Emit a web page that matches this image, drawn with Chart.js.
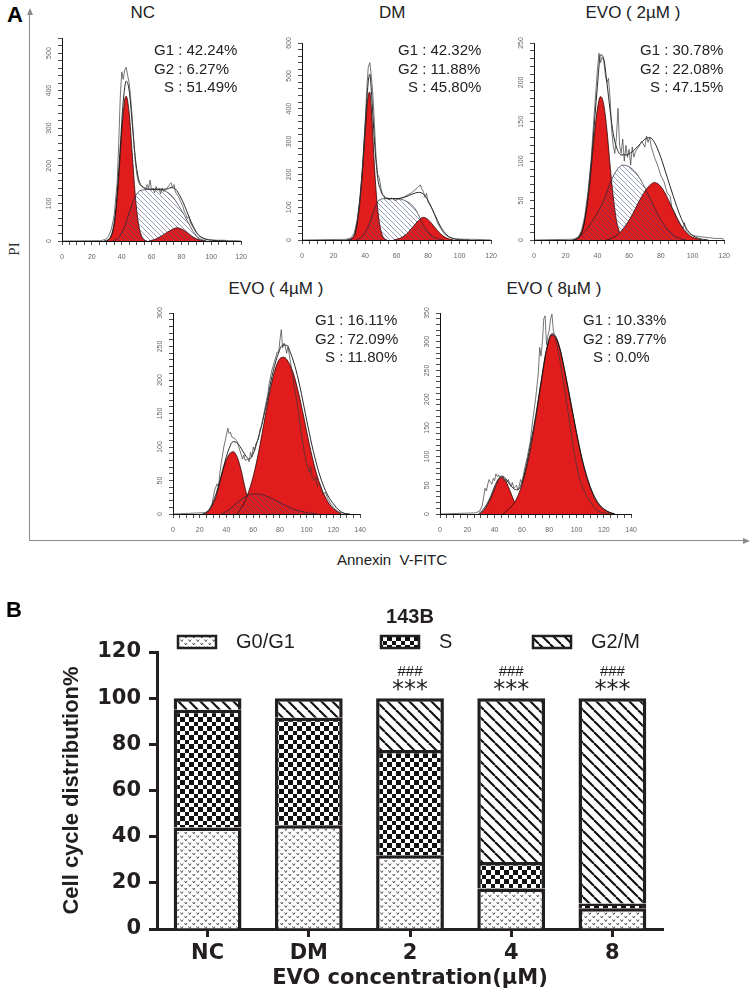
<!DOCTYPE html>
<html>
<head>
<meta charset="utf-8">
<script src="https://cdn.jsdelivr.net/npm/chart.js@4.4.1/dist/chart.umd.min.js"></script>
<style>
  html, body { margin: 0; padding: 0; background: #fff; }
  #page { position: relative; width: 750px; height: 994px; overflow: hidden;
          font-family: "Liberation Sans", Arial, sans-serif; color: #231f20; }
  .wrap { position: absolute; }
  .txt { position: absolute; white-space: nowrap; }
  .stat { position: absolute; font-size: 15px; line-height: 18.5px; white-space: nowrap; color: #222; }
  .stat span { display: inline-block; width: 20px; text-align: right; }
  .frame { position: absolute; left: 29px; top: 13px; width: 717px; height: 527px;
           border-left: 1.5px solid #8a8a8a; border-bottom: 1.5px solid #8a8a8a; }
  .arrowUp { position: absolute; left: 27px; top: 8px; width: 0; height: 0;
             border-left: 3px solid transparent; border-right: 3px solid transparent; border-bottom: 7px solid #8a8a8a; }
  .arrowRight { position: absolute; left: 743px; top: 538px; width: 0; height: 0;
                border-top: 3px solid transparent; border-bottom: 3px solid transparent; border-left: 7px solid #8a8a8a; }
</style>
</head>
<body>
<div id="page">
  <div class="frame"></div>
  <div class="arrowUp"></div>
  <div class="arrowRight"></div>

  <div class="wrap" id="w-nc"><canvas id="c-nc"></canvas></div>
  <div class="wrap" id="w-dm"><canvas id="c-dm"></canvas></div>
  <div class="wrap" id="w-e2"><canvas id="c-e2"></canvas></div>
  <div class="wrap" id="w-e4"><canvas id="c-e4"></canvas></div>
  <div class="wrap" id="w-e8"><canvas id="c-e8"></canvas></div>
  <div class="wrap" id="w-bar" style="left:0;top:600px;width:750px;height:394px"><canvas id="c-bar"></canvas></div>
</div>

<script>
// ---------- Panel A: flow histograms (DNA content vs count) ----------
// each series is a list of [channel, count]
const ncG1 = [[30,0],[32,6],[34,25],[36,75],[38,170],[40,290],[42,375],[43,385],[45,340],[47,235],[49,125],[51,52],[53,16],[55,3],[57,0]];
const ncG2 = [[58,0],[62,4],[66,12],[70,22],[74,31],[77,35],[80,32],[84,22],[88,10],[92,3],[96,0]];
const ncS = [[34,0],[38,10],[42,40],[45,75],[48,110],[51,130],[55,136],[60,137],[66,136],[70,131],[74,118],[78,95],[82,68],[86,38],[90,14],[94,3],[97,0]];
const ncFit = [[28,0],[32,8],[35,50],[37,130],[39,250],[41,370],[43,425],[45,400],[47,315],[49,225],[51,170],[53,148],[56,140],[60,138],[65,138],[70,138],[73,142],[76,138],[79,120],[82,95],[85,65],[88,38],[91,18],[94,8],[98,3],[104,1],[110,0]];
const ncRaw = [[0,0],[26,1],[29,4],[31,12],[33,30],[35,70],[37,160],[38,260],[39,380],[40,450],[41,430],[42,455],[43,462],[44,440],[45,420],[46,380],[47,330],[48,270],[49,215],[50,180],[51,160],[52,150],[54,145],[56,138],[57,150],[58,140],[59,162],[60,135],[61,140],[62,128],[63,145],[64,135],[65,140],[66,125],[67,140],[68,132],[70,138],[72,150],[73,155],[74,142],[75,150],[76,130],[78,118],[80,100],[81,92],[82,78],[83,70],[84,60],[85,65],[86,48],[88,35],[90,22],[92,14],[94,9],[96,6],[98,4],[100,3],[104,2],[108,2],[112,1],[116,1],[120,0]];

const dmG1 = [[30,0],[32,5],[34,25],[36,85],[38,185],[40,320],[42,440],[43,450],[44,400],[46,220],[48,95],[50,30],[52,6],[54,0]];
const dmG2 = [[58,0],[62,5],[66,17],[70,38],[74,60],[77,69],[80,62],[84,40],[88,18],[92,5],[96,0]];
const dmS = [[34,0],[38,10],[42,40],[46,95],[49,122],[53,126],[58,126],[63,124],[67,116],[70,105],[73,85],[76,55],[79,30],[82,14],[86,4],[90,0]];
const dmFit = [[28,0],[32,6],[34,28],[36,95],[38,200],[40,345],[42,480],[43,505],[44,455],[46,300],[48,190],[50,150],[52,132],[55,126],[60,126],[65,130],[70,140],[74,145],[77,140],[80,120],[84,80],[88,40],[92,15],[96,4],[100,1],[106,0]];
const dmRaw = [[0,0],[28,2],[31,6],[33,20],[35,60],[37,130],[39,260],[40,350],[41,450],[42,525],[43,540],[44,500],[45,440],[46,350],[47,250],[48,200],[49,190],[50,160],[51,140],[52,135],[53,125],[54,130],[55,122],[57,128],[59,120],[61,125],[63,128],[65,132],[67,138],[69,142],[71,150],[73,158],[75,168],[76,155],[77,148],[78,130],[79,142],[80,115],[82,100],[84,78],[86,52],[88,35],[90,20],[92,12],[94,7],[97,4],[100,3],[105,2],[110,2],[115,1],[120,0]];

const e2G1 = [[26,0],[29,6],[32,25],[35,68],[38,132],[40,166],[42,182],[44,172],[46,140],[48,95],[50,55],[52,25],[54,10],[56,3],[58,0]];
const e2G2 = [[46,0],[50,3],[54,9],[58,19],[62,32],[66,48],[70,62],[74,71],[76,73],[79,70],[82,62],[86,46],[90,29],[94,15],[98,6],[102,2],[106,0]];
const e2S = [[26,0],[30,6],[34,16],[38,28],[42,42],[45,55],[48,72],[52,88],[56,95],[60,93],[64,86],[68,74],[72,58],[76,41],[80,26],[84,14],[88,6],[92,2],[96,0]];
const e2Fit = [[24,0],[28,3],[31,15],[34,55],[37,120],[40,195],[42,235],[44,230],[46,200],[48,165],[50,135],[52,118],[55,108],[58,108],[62,112],[66,120],[70,128],[73,130],[76,124],[80,105],[84,80],[88,55],[92,32],[96,15],[100,6],[104,2],[110,0]];
const e2Raw = [[0,0],[25,1],[28,4],[30,12],[32,30],[34,60],[36,100],[38,160],[40,215],[41,237],[42,225],[43,232],[44,228],[45,210],[46,200],[47,205],[48,180],[49,140],[50,120],[51,110],[52,130],[53,167],[54,120],[55,110],[56,128],[57,100],[58,120],[59,105],[60,115],[61,95],[62,118],[63,105],[64,112],[66,118],[68,125],[70,118],[71,132],[72,124],[73,130],[74,118],[75,112],[76,105],[78,95],[80,82],[82,74],[84,60],[86,55],[87,40],[88,38],[90,28],[92,20],[93,18],[94,14],[95,22],[96,12],[98,8],[100,6],[102,5],[106,4],[110,3],[114,2],[118,2],[120,1]];

const e4G1 = [[24,0],[28,8],[32,25],[36,55],[39,76],[42,89],[45,93],[48,85],[51,65],[54,38],[57,16],[60,5],[63,1],[66,0]];
const e4G2 = [[48,0],[52,12],[56,30],[60,56],[64,92],[68,135],[72,178],[76,213],[80,232],[83,234],[86,228],[90,210],[94,180],[98,143],[102,104],[106,70],[110,44],[114,25],[118,12],[122,5],[126,0]];
const e4S = [[36,0],[40,4],[44,10],[48,17],[52,23],[56,28],[60,30],[64,30],[68,28],[72,25],[76,21],[80,17],[84,13],[88,9],[92,6],[96,4],[100,2],[104,1],[108,0]];
const e4Fit = [[22,0],[26,4],[30,18],[34,42],[38,72],[42,98],[45,108],[48,106],[51,98],[54,88],[57,82],[60,90],[63,108],[66,130],[70,165],[74,205],[78,235],[82,252],[85,252],[88,240],[92,215],[96,180],[100,140],[104,102],[108,70],[112,45],[116,27],[120,15],[124,6],[128,1],[132,0]];
const e4Raw = [[0,0],[24,2],[27,6],[29,12],[31,35],[33,45],[34,40],[35,60],[36,75],[38,100],[40,118],[41,128],[42,120],[43,122],[44,115],[46,113],[48,108],[50,95],[52,82],[53,88],[54,80],[56,82],[57,78],[58,92],[59,85],[60,100],[61,95],[62,105],[64,112],[65,125],[66,130],[68,150],[70,170],[71,180],[72,195],[74,215],[76,228],[78,242],[79,240],[80,260],[81,275],[82,248],[83,255],[84,250],[85,240],[86,250],[88,225],[90,200],[92,175],[94,150],[96,120],[98,95],[100,75],[102,62],[103,70],[104,55],[106,50],[107,55],[108,42],[110,45],[112,30],[114,32],[116,22],[118,15],[120,10],[122,6],[124,3],[128,1],[132,0]];

const e8G1 = [[29,0],[32,6],[35,17],[38,32],[41,50],[43,60],[45.5,64],[48,58],[50,48],[52,36],[54,24],[56,14],[58,7],[60,3],[62,0]];
const e8G2 = [[46,0],[50,8],[54,18],[58,37],[62,68],[66,110],[70,165],[74,228],[78,285],[82,312],[85,306],[88,285],[92,240],[96,190],[100,140],[104,95],[108,60],[112,34],[116,17],[120,8],[124,3],[128,0]];
const e8S = [];
const e8Fit = [[28,0],[31,6],[34,16],[37,30],[40,48],[43,62],[45,66],[48,62],[51,52],[54,44],[57,42],[60,55],[63,82],[66,118],[70,170],[74,230],[78,287],[82,314],[85,308],[88,287],[92,242],[96,192],[100,142],[104,97],[108,62],[112,36],[116,19],[120,9],[124,3],[128,0]];
const e8Raw = [[0,0],[26,2],[29,5],[31,15],[32,30],[33,45],[34,40],[35,52],[36,60],[37,55],[38,52],[39,62],[40,58],[41,70],[42,65],[43,68],[44,62],[46,66],[47,58],[48,62],[49,55],[50,60],[52,48],[53,55],[54,45],[56,50],[57,42],[58,48],[59,60],[60,55],[62,80],[64,100],[66,125],[68,165],[70,200],[72,245],[73,290],[74,275],[75,300],[76,340],[77,345],[78,295],[79,310],[80,320],[81,340],[82,348],[83,320],[84,310],[86,290],[88,265],[90,235],[92,205],[94,175],[96,140],[98,110],[100,85],[102,62],[104,50],[106,38],[108,28],[110,22],[112,14],[114,8],[116,5],[118,3],[122,1],[126,0]];

const histTitles = ['NC', 'DM', 'EVO ( 2µM )', 'EVO ( 4µM )', 'EVO ( 8µM )'];
const histStats = [
  ['42.24%', '6.27%', '51.49%'],
  ['42.32%', '11.88%', '45.80%'],
  ['30.78%', '22.08%', '47.15%'],
  ['16.11%', '72.09%', '11.80%'],
  ['10.33%', '89.77%', '0.0%']
];

// ---------- Panel B: stacked cell-cycle distribution ----------
const groups = ['NC', 'DM', '2', '4', '8'];
const g0g1 = [44, 45, 32, 17.5, 9];
const sPhase = [51, 46.5, 45.5, 11.5, 2];
const g2m = [5, 8.5, 22.5, 71, 89];
const sigHash = ['', '', '###', '###', '###'];
const sigStar = ['', '', '***', '***', '***'];
const phaseNames = ['G0/G1', 'S', 'G2/M'];

const INK = '#231f20';
const RED = '#e11c1c';
const page = document.getElementById('page');

function addText(html, cx, cy, css) {
  const d = document.createElement('div');
  d.className = 'txt';
  d.innerHTML = html;
  d.style.cssText += css;
  page.appendChild(d);
  d.style.left = (cx - d.offsetWidth / 2) + 'px';
  d.style.top = (cy - d.offsetHeight / 2) + 'px';
  return d;
}

function addStats(vals, left, top) {
  const d = document.createElement('div');
  d.className = 'stat';
  d.style.left = left + 'px';
  d.style.top = top + 'px';
  d.innerHTML = ['G1', 'G2', 'S'].map((k, i) => '<span>' + k + '</span> : ' + vals[i]).join('<br>');
  page.appendChild(d);
}

function makePattern(w, h, draw) {
  const c = document.createElement('canvas');
  c.width = w; c.height = h;
  const g = c.getContext('2d');
  draw(g, w, h);
  return g.createPattern(c, 'repeat');
}

const sHatch = makePattern(5, 5, (g, w) => {
  g.strokeStyle = 'rgba(60,70,120,0.75)';
  g.lineWidth = 0.7;
  for (const o of [-w, 0, w]) { g.beginPath(); g.moveTo(o, 0); g.lineTo(o + w, w); g.stroke(); }
});
const dots = makePattern(8, 7, g => {
  g.fillStyle = '#fff'; g.fillRect(0, 0, 8, 7);
  g.strokeStyle = '#555'; g.lineWidth = 1;
  g.beginPath(); g.moveTo(0.5, 1); g.lineTo(1.8, 3); g.lineTo(3, 1); g.stroke();
  g.beginPath(); g.moveTo(4.5, 4.5); g.lineTo(5.8, 6.5); g.lineTo(7, 4.5); g.stroke();
});
const checker = makePattern(9, 9, g => {
  g.fillStyle = '#fff'; g.fillRect(0, 0, 9, 9);
  g.fillStyle = '#111'; g.fillRect(0, 0, 5, 5); g.fillRect(5, 5, 4, 4);
});
const diag = makePattern(11, 11, (g, w) => {
  g.fillStyle = '#fff'; g.fillRect(0, 0, w, w);
  g.strokeStyle = '#111'; g.lineWidth = 2.1;
  for (const o of [-w, 0, w]) { g.beginPath(); g.moveTo(o, 0); g.lineTo(o + w, w); g.stroke(); }
});

function curve(pts, extra) {
  return Object.assign({
    data: pts.map(p => ({ x: p[0], y: p[1] })),
    pointRadius: 0, borderWidth: 0.8, fill: false, cubicInterpolationMode: 'monotone'
  }, extra);
}

function histogram(id, box, s, ax) {
  const wrap = document.getElementById('w-' + id);
  wrap.style.left = (box.x0 - 22) + 'px';
  wrap.style.top = (box.yt - 8) + 'px';
  wrap.style.width = (box.x1 - box.x0 + 30) + 'px';
  wrap.style.height = (box.yb - box.yt + 30) + 'px';
  const tickFont = { size: 7, family: 'Liberation Sans' };
  new Chart(document.getElementById('c-' + id), {
    type: 'line',
    data: {
      datasets: [
        curve(s.raw, { borderColor: '#3a3a3a', borderWidth: 0.7, cubicInterpolationMode: 'default', tension: 0 }),
        curve(s.fit, { borderColor: '#111', borderWidth: 0.9 }),
        curve(s.s, { borderColor: '#23263a', borderWidth: 0.7, backgroundColor: sHatch, fill: 'origin' }),
        curve(s.g2, { borderColor: '#2a0606', borderWidth: 0.8, backgroundColor: RED, fill: 'origin' }),
        curve(s.g1, { borderColor: '#2a0606', borderWidth: 0.8, backgroundColor: RED, fill: 'origin' })
      ]
    },
    options: {
      animation: false, responsive: true, maintainAspectRatio: false,
      layout: { padding: { top: 8, right: 8, left: 0, bottom: 0 } },
      plugins: { legend: { display: false }, tooltip: { enabled: false } },
      scales: {
        x: {
          type: 'linear', min: 0, max: ax.xMax,
          afterFit: sc => { sc.height = 22; },
          ticks: { stepSize: 5, autoSkip: false, minRotation: 0, maxRotation: 0, padding: 8,
                   font: tickFont, color: '#666', callback: v => (v % 20 === 0 ? v : '') },
          grid: { drawOnChartArea: false, tickLength: 4, color: '#222', lineWidth: 0.8 },
          border: { color: '#111', width: 1 }
        },
        y: {
          min: 0, max: ax.yMax,
          afterFit: sc => { sc.width = 22; },
          ticks: { stepSize: ax.yMinor, autoSkip: false, minRotation: 90, maxRotation: 90, crossAlign: 'center',
                   padding: 3, font: tickFont, color: '#666', callback: v => (v % ax.yMajor === 0 ? v : '') },
          grid: { drawOnChartArea: false, tickLength: 4, color: '#222', lineWidth: 0.8 },
          border: { color: '#111', width: 1 }
        }
      }
    }
  });
}

histogram('nc', { x0: 62, x1: 247, yt: 38, yb: 241 },
  { g1: ncG1, g2: ncG2, s: ncS, fit: ncFit, raw: ncRaw }, { xMax: 120, yMax: 540, yMajor: 100, yMinor: 20 });
histogram('dm', { x0: 302, x1: 497, yt: 43, yb: 240 },
  { g1: dmG1, g2: dmG2, s: dmS, fit: dmFit, raw: dmRaw }, { xMax: 120, yMax: 600, yMajor: 100, yMinor: 20 });
histogram('e2', { x0: 534, x1: 730, yt: 43, yb: 240 },
  { g1: e2G1, g2: e2G2, s: e2S, fit: e2Fit, raw: e2Raw }, { xMax: 120, yMax: 250, yMajor: 50, yMinor: 10 });
histogram('e4', { x0: 173, x1: 366, yt: 313, yb: 514 },
  { g1: e4G1, g2: e4G2, s: e4S, fit: e4Fit, raw: e4Raw }, { xMax: 140, yMax: 300, yMajor: 50, yMinor: 10 });
histogram('e8', { x0: 440, x1: 637, yt: 313, yb: 514 },
  { g1: e8G1, g2: e8G2, s: e8S, fit: e8Fit, raw: e8Raw }, { xMax: 140, yMax: 350, yMajor: 50, yMinor: 10 });

// panel A texts
const titleCss = 'font-size:17px;line-height:20px;color:#222;';
[[143, 12.5], [392, 12.5], [633, 12.5], [276, 289], [554, 289]].forEach((p, i) => addText(histTitles[i], p[0], p[1], titleCss));
[[154, 41], [398, 41], [640, 41], [315, 311], [583, 311]].forEach((p, i) => addStats(histStats[i], p[0], p[1]));
addText('A', 15, 15, 'font-weight:bold;font-size:22px;line-height:24px;color:#000;');
addText('PI', 13, 249, 'font-family:"Liberation Serif";font-size:15px;line-height:16px;transform:rotate(-90deg);color:#333;');
addText('Annexin&nbsp; V-FITC', 392, 560, 'font-size:15px;line-height:18px;color:#222;');
addText('B', 14, 610, 'font-weight:bold;font-size:22px;line-height:24px;color:#000;');

// ---------- bar chart ----------
const LEGEND_X = [178, 381, 533];
const headerPlugin = {
  id: 'header',
  afterDraw(chart) {
    const { ctx, chartArea, scales } = chart;
    ctx.save();
    ctx.fillStyle = INK;
    ctx.textAlign = 'center';
    ctx.textBaseline = 'middle';
    ctx.font = 'bold 20px "Liberation Sans"';
    ctx.fillText('143B', (chartArea.left + chartArea.right) / 2, 17);
    chart.data.datasets.forEach((ds, i) => {
      const x = LEGEND_X[i];
      ctx.fillStyle = ds.backgroundColor;
      ctx.fillRect(x, 36, 38, 12);
      ctx.lineWidth = 2.5;
      ctx.strokeStyle = INK;
      ctx.strokeRect(x, 36, 38, 12);
      ctx.fillStyle = INK;
      ctx.textAlign = 'left';
      ctx.font = '20px "Liberation Sans"';
      ctx.fillText(ds.label, x + 58, 42);
    });
    const top = scales.y.getPixelForValue(100);
    ctx.textAlign = 'center';
    groups.forEach((g, i) => {
      const cx = scales.x.getPixelForValue(i);
      ctx.font = '15px "Liberation Sans"';
      ctx.fillText(sigHash[i], cx, top - 26);
      ctx.font = '24px "DejaVu Sans"';
      ctx.fillText(sigStar[i], cx, top - 7);
    });
    ctx.restore();
  }
};

const boldTick = { family: 'DejaVu Sans', size: 21, weight: 'bold' };
new Chart(document.getElementById('c-bar'), {
  type: 'bar',
  data: {
    labels: groups,
    datasets: [
      { label: phaseNames[0], data: g0g1, backgroundColor: dots },
      { label: phaseNames[1], data: sPhase, backgroundColor: checker },
      { label: phaseNames[2], data: g2m, backgroundColor: diag }
    ].map(d => Object.assign(d, { borderColor: INK, borderWidth: 3.5, barPercentage: 0.67, categoryPercentage: 1 }))
  },
  options: {
    animation: false, responsive: true, maintainAspectRatio: false,
    layout: { padding: { top: 52, left: 0, right: 0, bottom: 0 } },
    plugins: { legend: { display: false }, title: { display: false }, tooltip: { enabled: false } },
    scales: {
      x: {
        stacked: true,
        afterFit: sc => { sc.height = 65; },
        ticks: { font: boldTick, color: INK, padding: 4, maxRotation: 0 },
        grid: { drawOnChartArea: false, offset: false, tickLength: 8, tickWidth: 3, color: INK },
        border: { color: INK, width: 3 },
        title: { display: true, text: 'EVO concentration(μM)', color: INK,
                 font: { family: 'DejaVu Sans', size: 21, weight: 'bold' }, padding: { top: 0, bottom: 3 } }
      },
      y: {
        stacked: true, min: 0, max: 120,
        afterFit: sc => { sc.width = 157; },
        ticks: { stepSize: 20, font: boldTick, color: INK, padding: 8 },
        grid: { drawOnChartArea: false, tickLength: 8, tickWidth: 3, color: INK },
        border: { color: INK, width: 3 },
        title: { display: true, text: 'Cell cycle distribution%', color: INK,
                 font: { family: 'Liberation Sans', size: 22, weight: 'bold' }, padding: { top: 59, bottom: 0 } }
      },
      yR: {
        type: 'linear', position: 'right',
        afterFit: sc => { sc.width = 87; },
        grid: { display: false }, border: { display: false }, ticks: { display: false }
      }
    }
  },
  plugins: [headerPlugin]
});
</script>
</body>
</html>
